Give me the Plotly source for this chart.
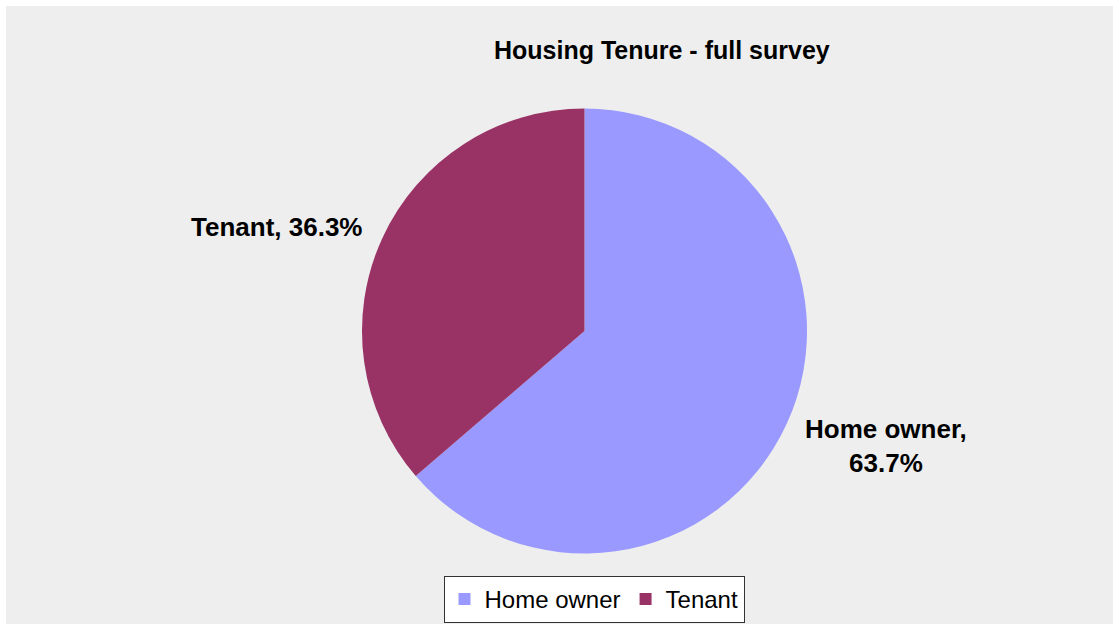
import plotly.graph_objects as go

categories = ["Home owner", "Tenant"]
values = [63.7, 36.3]
colors = ["#9999FF", "#993366"]
title_text = "Housing Tenure - full survey"

W, H = 1113, 624

fig = go.Figure()
fig.add_trace(go.Pie(
    labels=categories,
    values=values,
    marker=dict(colors=colors, line=dict(width=0)),
    sort=False,
    direction="clockwise",
    rotation=0,
    textinfo="none",
    hoverinfo="label+percent",
    domain=dict(x=[362 / W, 807 / W], y=[1 - 554 / H, 1 - 108 / H]),
    showlegend=True,
))

label_font = dict(family="Liberation Sans, Arial, sans-serif", size=26, color="#000000", weight="bold")
fig.add_annotation(
    x=276 / W, y=1 - 227 / H, xref="paper", yref="paper",
    text=f"{categories[1]}, {values[1]}%", showarrow=False, font=label_font,
    xanchor="center", yanchor="middle",
)
fig.add_annotation(
    x=886 / W, y=1 - 446 / H, xref="paper", yref="paper",
    text=f"{categories[0]},<br>{values[0]}%", showarrow=False, font=label_font,
    xanchor="center", yanchor="middle",
)
fig.add_annotation(
    x=662 / W, y=1 - 50 / H, xref="paper", yref="paper",
    text=title_text, showarrow=False,
    font=dict(family="Liberation Sans, Arial, sans-serif", size=25, color="#000000", weight="bold"),
    xanchor="center", yanchor="middle",
)

fig.add_shape(
    type="rect", xref="paper", yref="paper",
    x0=6 / W, x1=1.01, y0=-0.01, y1=1 - 6 / H,
    fillcolor="#EEEEEE", line=dict(width=0), layer="below",
)

fig.update_layout(
    width=W, height=H,
    margin=dict(l=0, r=0, t=0, b=0),
    paper_bgcolor="#FFFFFF",
    legend=dict(
        orientation="h",
        x=594 / W, xanchor="center",
        y=1 - 623 / H, yanchor="bottom",
        bgcolor="#FFFFFF", bordercolor="#333333", borderwidth=1,
        font=dict(family="Liberation Sans, Arial, sans-serif", size=24, color="#000000"),
    ),
)

fig.write_html(
    "out.html",
    config={"displayModeBar": False},
    post_script="document.body.style.margin='0';document.body.style.padding='0';",
)
